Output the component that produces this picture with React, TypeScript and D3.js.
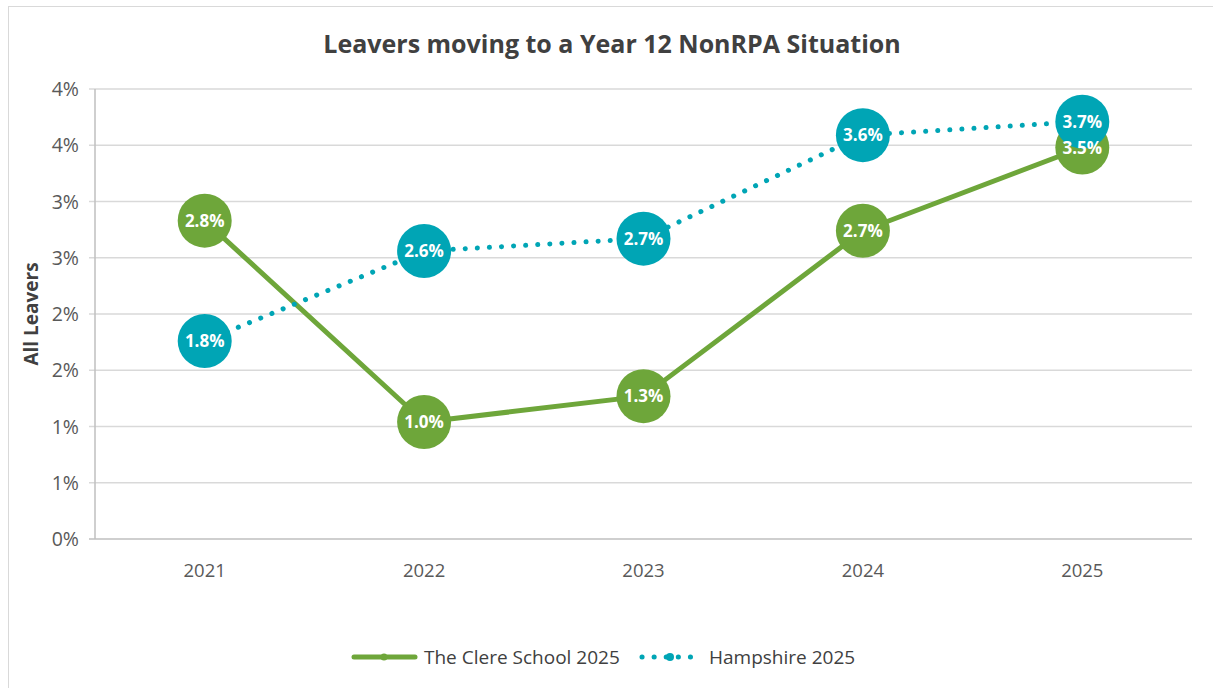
import React from "react";
import * as d3 from "d3";

const years = ["2021", "2022", "2023", "2024", "2025"];
const clere = [2.83, 1.04, 1.27, 2.74, 3.48];
const hampshire = [1.76, 2.56, 2.67, 3.59, 3.71];
const yTicks = [0, 0.5, 1, 1.5, 2, 2.5, 3, 3.5, 4];
const seriesNames = ["The Clere School 2025", "Hampshire 2025"];
const title = "Leavers moving to a Year 12 NonRPA Situation";
const yTitle = "All Leavers";

const W = 1213;
const H = 688;
const GREEN = "#6ea63a";
const TEAL = "#00a5b5";
const FONT = "'Open Sans', 'Noto Sans', sans-serif";

export default function App() {
  const x = d3.scaleBand().domain(years).range([95, 1192]);
  const y = d3.scaleLinear().domain([0, 4]).range([539, 89]);
  const cx = (d: string) => (x(d) as number) + x.bandwidth() / 2;
  const line = d3
    .line<number>()
    .x((_, i) => cx(years[i]))
    .y((v) => y(v));
  const fmtTick = (v: number) => `${Math.round(v)}%`;
  const fmtLabel = (v: number) => `${v.toFixed(1)}%`;
  const R = 27;

  return (
    <svg
      width={W}
      height={H}
      style={{ position: "absolute", left: 0, top: 0, fontFamily: FONT }}
    >
      <rect x={0} y={0} width={W} height={H} fill="#fff" />
      <rect x={8.5} y={6.5} width={W} height={H} fill="#fff" stroke="#d9d9d9" strokeWidth={1} />
      <text x={612} y={53} textAnchor="middle" fontSize={25} fontWeight={700} fill="#404040">
        {title}
      </text>
      {yTicks.map((t) => (
        <g key={t}>
          <line x1={89} x2={1192} y1={y(t)} y2={y(t)} stroke={t === 0 ? "#bfbfbf" : "#d9d9d9"} strokeWidth={1.5} />
          <text x={79} y={y(t) + 7} textAnchor="end" fontSize={19.5} fill="#595959">
            {fmtTick(t)}
          </text>
        </g>
      ))}
      <line x1={95} x2={95} y1={89} y2={539} stroke="#bfbfbf" strokeWidth={1.5} />
      {years.map((yr) => (
        <text key={yr} x={cx(yr)} y={577} textAnchor="middle" fontSize={18.5} fill="#595959">
          {yr}
        </text>
      ))}
      <text
        transform={`translate(38,314) rotate(-90)`}
        textAnchor="middle"
        fontSize={19}
        fontWeight={700}
        fill="#404040"
      >
        {yTitle}
      </text>
      <path d={line(clere) as string} fill="none" stroke={GREEN} strokeWidth={5} strokeLinejoin="round" />
      <path
        d={line(hampshire) as string}
        fill="none"
        stroke={TEAL}
        strokeWidth={5}
        strokeLinecap="round"
        strokeDasharray="0.1 12"
      />
      {clere.map((v, i) => (
        <circle key={"c" + i} cx={cx(years[i])} cy={y(v)} r={R} fill={GREEN} />
      ))}
      {hampshire.map((v, i) => (
        <circle key={"h" + i} cx={cx(years[i])} cy={y(v)} r={R} fill={TEAL} />
      ))}
      {clere.map((v, i) => (
        <text key={"cl" + i} x={cx(years[i])} y={y(v) + 6} textAnchor="middle" fontSize={17} fontWeight={700} fill="#fff">
          {fmtLabel(v)}
        </text>
      ))}
      {hampshire.map((v, i) => (
        <text key={"hl" + i} x={cx(years[i])} y={y(v) + 6} textAnchor="middle" fontSize={17} fontWeight={700} fill="#fff">
          {fmtLabel(v)}
        </text>
      ))}
      <g>
        <line x1={354} x2={415} y1={657} y2={657} stroke={GREEN} strokeWidth={5} strokeLinecap="round" />
        <circle cx={384} cy={657} r={3.5} fill={GREEN} />
        <text x={424} y={664} fontSize={19} fill="#404040">{seriesNames[0]}</text>
        <line x1={642} x2={692} y1={657} y2={657} stroke={TEAL} strokeWidth={5} strokeLinecap="round" strokeDasharray="0.1 12" />
        <circle cx={670} cy={657} r={4} fill={TEAL} />
        <text x={709} y={664} fontSize={19} fill="#404040">{seriesNames[1]}</text>
      </g>
    </svg>
  );
}
